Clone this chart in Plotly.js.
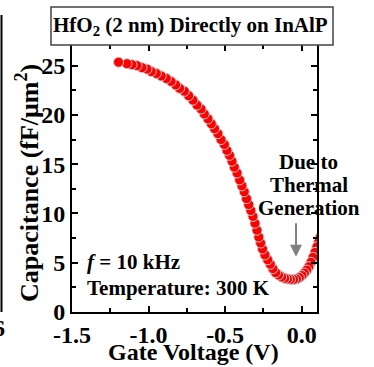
<!DOCTYPE html>
<html>
<head>
<meta charset="utf-8">
<script src="https://cdn.plot.ly/plotly-3.0.1.min.js"></script>
<style>
  html, body { margin: 0; padding: 0; background: #ffffff; }
  #chart { width: 374px; height: 367px; }
</style>
</head>
<body>
<div id="chart"></div>
<script>
// C-V sweep of HfO2 (2 nm) on InAlP, 10 kHz, 300 K
const gateVoltage = [
  -1.196, -1.141, -1.108, -1.075, -1.043, -1.010, -0.982, -0.949, -0.917, -0.884,
  -0.853, -0.823, -0.797, -0.766, -0.738, -0.710, -0.684, -0.657, -0.636, -0.612,
  -0.590, -0.569, -0.547, -0.527, -0.505, -0.488, -0.471, -0.455, -0.440, -0.422,
  -0.405, -0.390, -0.375, -0.360, -0.346, -0.332, -0.318, -0.305, -0.292, -0.280,
  -0.268, -0.256, -0.240, -0.222, -0.205, -0.188, -0.170, -0.151, -0.131, -0.111,
  -0.092, -0.073, -0.053, -0.034, -0.015, 0.002, 0.018, 0.033, 0.047, 0.061,
  0.074, 0.087, 0.099, 0.111, 0.122
];
const capacitance = [
  25.35, 25.2, 25.1, 25.0, 24.8, 24.65, 24.4, 24.2, 23.95, 23.7,
  23.4, 23.05, 22.7, 22.4, 21.95, 21.5, 21.0, 20.6, 20.1, 19.6,
  19.1, 18.6, 18.1, 17.5, 17.0, 16.4, 15.9, 15.3, 14.7, 14.1,
  13.4, 12.8, 12.2, 11.5, 10.9, 10.3, 9.7, 9.0, 8.3, 7.6,
  7.0, 6.4, 5.8, 5.3, 4.85, 4.4, 4.0, 3.75, 3.55, 3.42,
  3.35, 3.3, 3.3, 3.35, 3.5, 3.7, 3.95, 4.25, 4.6, 5.05,
  5.55, 6.05, 6.6, 7.1, 7.6
];
const xTickVals = [-1.5, -1.0, -0.5, 0.0];
const xTickText = ['-1.5', '-1.0', '-0.5', '0.0'];
const yTickVals = [0, 5, 10, 15, 20, 25];
const yTickText = ['0', '5', '10', '15', '20', '25'];

const SERIF = '"Liberation Serif", "Times New Roman", serif';
const bold = (size, color) => ({ family: SERIF, size: size, color: color || '#000000', weight: 'bold' });

// sweep runs from positive to negative bias, so the last point sits on top
const trace = {
  x: gateVoltage.slice().reverse(),
  y: capacitance.slice().reverse(),
  type: 'scatter',
  mode: 'markers',
  marker: { color: '#ff0000', size: 10, line: { color: '#c8c8c8', width: 1 } },
  cliponaxis: true,
  hoverinfo: 'skip'
};

const axisCommon = {
  showline: true, linewidth: 2, linecolor: '#000000', mirror: 'ticks',
  ticks: 'inside', ticklen: 6, tickwidth: 2, tickcolor: '#000000',
  showgrid: false, zeroline: false, fixedrange: true,
  tickfont: bold(24)
};

const layout = {
  width: 374, height: 367,
  margin: { l: 72, r: 57, t: 45, b: 55, pad: 0 },
  paper_bgcolor: '#ffffff', plot_bgcolor: '#ffffff',
  showlegend: false,
  xaxis: Object.assign({}, axisCommon, {
    range: [-1.5, 0.1], tickvals: xTickVals, ticktext: xTickText,
    minor: { dtick: 0.25, ticks: 'inside', ticklen: 4, tickwidth: 2, tickcolor: '#000000' }
  }),
  yaxis: Object.assign({}, axisCommon, {
    range: [0, 27.1], tickvals: yTickVals, ticktext: yTickText,
    minor: { dtick: 2.5, ticks: 'inside', ticklen: 4, tickwidth: 2, tickcolor: '#000000' }
  }),
  shapes: [
    // title frame
    { type: 'rect', xref: 'paper', yref: 'paper', x0: -0.0857, x1: 1.0653, y0: 1.0, y1: 1.1423,
      line: { color: '#444444', width: 1.5 }, fillcolor: '#ffffff', layer: 'above' },
    // right edge of the neighbouring panel
    { type: 'line', xref: 'paper', yref: 'paper', x0: -0.2878, x1: -0.2878, y0: 0, y1: 1.112,
      line: { color: '#000000', width: 2 } }
  ],
  annotations: [
    { xref: 'paper', yref: 'paper', x: 0.4857, y: 1.0712, xanchor: 'center', yanchor: 'middle',
      text: 'HfO<sub>2</sub> (2 nm) Directly on InAlP', showarrow: false, font: bold(21) },
    { xref: 'paper', yref: 'paper', x: -0.1837, y: 0.483, xanchor: 'center', yanchor: 'middle',
      text: 'Capacitance (fF/μm<sup>2</sup>)', textangle: -90, showarrow: false, font: bold(26) },
    { xref: 'paper', yref: 'paper', x: 0.496, y: -0.1498, xanchor: 'center', yanchor: 'middle',
      text: 'Gate Voltage (V)', showarrow: false, font: bold(24) },
    { xref: 'paper', yref: 'paper', x: 0.053, y: 0.188, xanchor: 'left', yanchor: 'middle',
      text: '<i>f</i> = 10 kHz', showarrow: false, font: bold(21) },
    { xref: 'paper', yref: 'paper', x: 0.053, y: 0.09, xanchor: 'left', yanchor: 'middle',
      text: 'Temperature: 300 K', showarrow: false, font: bold(21) },
    { xref: 'paper', yref: 'paper', x: 0.966, y: 0.563, xanchor: 'center', yanchor: 'middle',
      text: 'Due to', showarrow: false, font: bold(21) },
    { xref: 'paper', yref: 'paper', x: 0.966, y: 0.476, xanchor: 'center', yanchor: 'middle',
      text: 'Thermal', showarrow: false, font: bold(21) },
    { xref: 'paper', yref: 'paper', x: 0.966, y: 0.389, xanchor: 'center', yanchor: 'middle',
      text: 'Generation', showarrow: false, font: bold(21) },
    // arrow pointing at the inversion-side rise
    { xref: 'x', yref: 'y', x: -0.037, y: 5.6, text: '', showarrow: true,
      axref: 'pixel', ayref: 'pixel', ax: 0, ay: -35,
      arrowhead: 2, arrowsize: 1.2, arrowwidth: 2, arrowcolor: '#808080', standoff: 0 },
    // tick label of the neighbouring panel
    { xref: 'paper', yref: 'paper', x: -0.2653, y: -0.0599, xanchor: 'right', yanchor: 'middle',
      text: '6', showarrow: false, font: bold(24) }
  ]
};

Plotly.newPlot('chart', [trace], layout, { staticPlot: true, displayModeBar: false });
</script>
</body>
</html>
